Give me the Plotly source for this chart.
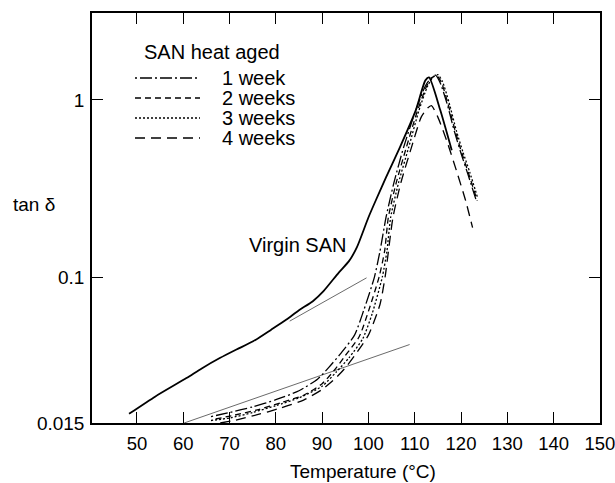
import plotly.graph_objects as go

# ---- data ----
temp_virgin = [48.3, 54, 60.7, 64, 67.9, 71.5, 75.1, 79, 82.3, 85, 88, 90.3, 93.6,
               95.8, 97.5, 100, 101.7, 103.8, 106.8, 110.2, 112.3, 113.1, 115.5, 118]
tan_virgin = [0.0169, 0.0212, 0.0269, 0.0305, 0.0349, 0.039, 0.0434, 0.0505, 0.0576,
              0.065, 0.0731, 0.0833, 0.106, 0.123, 0.147, 0.217, 0.275, 0.365, 0.54,
              0.87, 1.29, 1.34, 0.88, 0.52]

temp_1w = [66, 70, 75, 80, 85, 89, 91.5, 94, 97, 99, 101.3, 102.5, 103.8, 105.5, 107.6,
           110.2, 112.3, 113.5, 114.5, 115.5, 117, 118.6, 120, 121.5, 123.3]
tan_1w = [0.0163, 0.0172, 0.0185, 0.0203, 0.0228, 0.0265, 0.031, 0.037, 0.047, 0.065,
          0.1, 0.14, 0.217, 0.34, 0.54, 0.87, 1.2, 1.33, 1.38, 1.25, 0.95, 0.66, 0.5,
          0.38, 0.27]

temp_2w = [67, 71, 76, 81, 86, 90, 92.5, 95, 98, 100, 102.3, 103.5, 104.3, 106, 108.2,
           110.6, 112.6, 113.8, 114.8, 115.8, 117.2, 118.8, 120.2, 121.7, 123.5]
tan_2w = [0.0158, 0.0166, 0.0178, 0.0195, 0.0215, 0.025, 0.0295, 0.036, 0.046, 0.064,
          0.1, 0.14, 0.217, 0.34, 0.54, 0.87, 1.2, 1.34, 1.37, 1.25, 0.95, 0.66, 0.5,
          0.38, 0.27]

temp_3w = [66, 70, 75, 80, 85, 90, 93, 95.8, 98.8, 100.8, 103, 104, 104.8, 106.5, 108.7,
           110.9, 112.8, 114, 115, 116, 117.4, 119, 120.4, 121.9, 123.6]
tan_3w = [0.0155, 0.016, 0.0172, 0.0188, 0.0208, 0.0242, 0.029, 0.035, 0.045, 0.062,
          0.1, 0.14, 0.217, 0.34, 0.54, 0.87, 1.2, 1.35, 1.39, 1.27, 0.97, 0.67, 0.51,
          0.39, 0.28]

temp_4w = [68, 71, 76, 81, 86, 90, 93, 95, 97, 100, 102.5, 103.6, 105.3, 107, 109.3,
           111.4, 112.8, 113.6, 115, 117, 119, 121, 122.5]
tan_4w = [0.015, 0.0155, 0.0167, 0.0182, 0.0202, 0.0232, 0.027, 0.0307, 0.036, 0.047,
          0.07, 0.1, 0.217, 0.34, 0.54, 0.8, 0.9, 0.93, 0.8, 0.58, 0.40, 0.27, 0.19]

tangent_virgin_t = [83, 99.6]
tangent_virgin_v = [0.0564, 0.099]
tangent_aged_t = [60.2, 108.9]
tangent_aged_v = [0.015, 0.0416]

x_ticks = [50, 60, 70, 80, 90, 100, 110, 120, 130, 140, 150]
y_ticks = [0.015, 0.1, 1]
y_tick_text = ["0.015", "0.1", "1"]

legend_labels = ["1 week", "2 weeks", "3 weeks", "4 weeks"]
legend_dashes = ["2px,3px,12px,3px", "6px,4px", "2px,2px", "10px,6px"]

FONT = "Liberation Sans, Arial, sans-serif"

fig = go.Figure()

fig.add_trace(go.Scatter(x=tangent_virgin_t, y=tangent_virgin_v, mode="lines",
                         line=dict(color="#444", width=0.8), showlegend=False))
fig.add_trace(go.Scatter(x=tangent_aged_t, y=tangent_aged_v, mode="lines",
                         line=dict(color="#444", width=0.8), showlegend=False))

fig.add_trace(go.Scatter(x=temp_virgin, y=tan_virgin, mode="lines", name="Virgin SAN",
                         line=dict(color="black", width=1.8, shape="spline", smoothing=0.6),
                         showlegend=False))

aged = [(temp_1w, tan_1w), (temp_2w, tan_2w), (temp_3w, tan_3w), (temp_4w, tan_4w)]
for (tx, ty), lab, dsh in zip(aged, legend_labels, legend_dashes):
    fig.add_trace(go.Scatter(x=tx, y=ty, mode="lines", name=lab,
                             line=dict(color="black", width=1.3, dash=dsh,
                                       shape="spline", smoothing=0.6),
                             showlegend=False))

# manual legend
L, T, W, H = 92, 13, 508, 410
def px(x):
    return (x - L) / W
def py(y):
    return (T + H - y) / H

shapes = []
annotations = []
annotations.append(dict(x=px(142), y=py(52), xref="paper", yref="paper",
                        text="SAN heat aged", showarrow=False, xanchor="left",
                        yanchor="middle", font=dict(size=20, color="black", family=FONT)))
for i, (lab, dsh) in enumerate(zip(legend_labels, legend_dashes)):
    yy = py(78 + 20 * i)
    shapes.append(dict(type="line", xref="paper", yref="paper", x0=px(135), x1=px(200),
                       y0=yy, y1=yy, line=dict(color="black", width=1.3, dash=dsh)))
    annotations.append(dict(x=px(220), y=yy, xref="paper", yref="paper", text=lab,
                            showarrow=False, xanchor="left", yanchor="middle",
                            font=dict(size=20, color="black", family=FONT)))

annotations.append(dict(x=px(297), y=py(245), xref="paper", yref="paper",
                        text="Virgin SAN", showarrow=False, xanchor="center",
                        yanchor="middle", font=dict(size=20, color="black", family=FONT)))
annotations.append(dict(x=px(34), y=py(204), xref="paper", yref="paper",
                        text="tan δ", showarrow=False, xanchor="center",
                        yanchor="middle", font=dict(size=19, color="black", family=FONT)))
annotations.append(dict(x=px(363), y=py(471), xref="paper", yref="paper",
                        text="Temperature (°C)", showarrow=False, xanchor="center",
                        yanchor="middle", font=dict(size=19, color="black", family=FONT)))

fig.update_layout(
    width=615, height=483,
    margin=dict(l=L, r=615 - L - W, t=T, b=483 - T - H, pad=0, autoexpand=False),
    paper_bgcolor="white", plot_bgcolor="white",
    shapes=shapes, annotations=annotations,
    font=dict(family=FONT, color="black", size=18),
)
fig.update_xaxes(range=[40.3, 150.02], tickvals=x_ticks, ticks="inside", ticklen=11,
                 tickwidth=1.3, tickcolor="black", showline=True, linecolor="black",
                 linewidth=1.5, mirror="ticks", showgrid=False, zeroline=False,
                 tickfont=dict(size=18.5, family=FONT, color="black"),
                 ticklabelstandoff=3, ticklabeloverflow="allow", automargin=False)
fig.update_yaxes(type="log", range=[-1.8239, 0.491], tickvals=y_ticks, ticktext=y_tick_text,
                 ticks="inside", ticklen=11, tickwidth=1.3, tickcolor="black",
                 showline=True, linecolor="black", linewidth=1.5, mirror="ticks",
                 showgrid=False, zeroline=False,
                 tickfont=dict(size=19, family=FONT, color="black"),
                 ticklabelstandoff=2, ticklabeloverflow="allow", automargin=False)

fig.write_html("out.html")
